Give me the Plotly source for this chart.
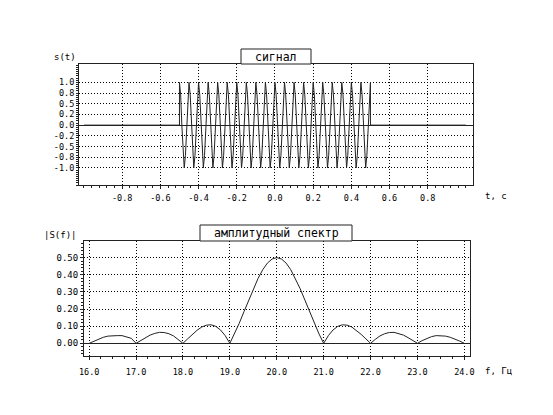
import plotly.graph_objects as go

# page body has an 8px margin, so the figure is drawn 8px in from the window corner
OFF = 8
W, H = 553 - OFF, 415 - OFF

# --- signal s(t): 20 Hz burst on [-0.5, 0.5] s, 8 samples per period
T_START, T_STEP = -0.5, 1 / 160
sig_vals = [
    1.0, 0.71, 0.0, -0.71, -1.0, -0.71, 0.0, 0.71,
    1.0, 0.71, 0.0, -0.71, -1.0, -0.71, 0.0, 0.71,
    1.0, 0.71, 0.0, -0.71, -1.0, -0.71, 0.0, 0.71,
    1.0, 0.71, 0.0, -0.71, -1.0, -0.71, 0.0, 0.71,
    1.0, 0.71, 0.0, -0.71, -1.0, -0.71, 0.0, 0.71,
    1.0, 0.71, 0.0, -0.71, -1.0, -0.71, 0.0, 0.71,
    1.0, 0.71, 0.0, -0.71, -1.0, -0.71, 0.0, 0.71,
    1.0, 0.71, 0.0, -0.71, -1.0, -0.71, 0.0, 0.71,
    1.0, 0.71, 0.0, -0.71, -1.0, -0.71, 0.0, 0.71,
    1.0, 0.71, 0.0, -0.71, -1.0, -0.71, 0.0, 0.71,
    1.0, 0.71, 0.0, -0.71, -1.0, -0.71, 0.0, 0.71,
    1.0, 0.71, 0.0, -0.71, -1.0, -0.71, 0.0, 0.71,
    1.0, 0.71, 0.0, -0.71, -1.0, -0.71, 0.0, 0.71,
    1.0, 0.71, 0.0, -0.71, -1.0, -0.71, 0.0, 0.71,
    1.0, 0.71, 0.0, -0.71, -1.0, -0.71, 0.0, 0.71,
    1.0, 0.71, 0.0, -0.71, -1.0, -0.71, 0.0, 0.71,
    1.0, 0.71, 0.0, -0.71, -1.0, -0.71, 0.0, 0.71,
    1.0, 0.71, 0.0, -0.71, -1.0, -0.71, 0.0, 0.71,
    1.0, 0.71, 0.0, -0.71, -1.0, -0.71, 0.0, 0.71,
    1.0, 0.71, 0.0, -0.71, -1.0, -0.71, 0.0, 0.71,
    1.0,
]
sig_t = [T_START + i * T_STEP for i in range(len(sig_vals))]
# zero outside the burst
sig_t = [-1.0, -0.5] + sig_t + [0.5, 1.0]
sig_vals = [0.0, 0.0] + sig_vals + [0.0, 0.0]

sig_tickvals = [-0.8, -0.6, -0.4, -0.2, 0.0, 0.2, 0.4, 0.6, 0.8]
sig_ytickvals = [1.0, 0.75, 0.5, 0.25, 0.0, -0.25, -0.5, -0.75, -1.0]
sig_yticktext = ["1.0", "0.8", "0.5", "0.2", "0.0", "-0.2", "-0.5", "-0.8", "-1.0"]

# --- amplitude spectrum |S(f)|, 16..24 Hz every 0.1 Hz
freq = [round(16.0 + i / 10, 1) for i in range(81)]
spec = [
    0.000, 0.013, 0.025, 0.035, 0.042, 0.045, 0.045, 0.045, 0.039, 0.029,
    0.000, 0.017, 0.033, 0.048, 0.058, 0.064, 0.063, 0.056, 0.043, 0.023,
    0.000, 0.026, 0.052, 0.076, 0.095, 0.106, 0.108, 0.099, 0.078, 0.045,
    0.000, 0.055, 0.117, 0.184, 0.252, 0.318, 0.378, 0.429, 0.468, 0.492,
    0.500,
    0.492, 0.468, 0.429, 0.378, 0.318, 0.252, 0.184, 0.117, 0.055, 0.000,
    0.045, 0.078, 0.099, 0.108, 0.106, 0.095, 0.076, 0.052, 0.026, 0.000,
    0.023, 0.043, 0.056, 0.063, 0.064, 0.058, 0.048, 0.033, 0.017, 0.000,
    0.016, 0.029, 0.039, 0.045, 0.045, 0.042, 0.035, 0.025, 0.013, 0.000,
]
spec_tickvals = [16, 17, 18, 19, 20, 21, 22, 23, 24]
spec_ticktext = ["16.0", "17.0", "18.0", "19.0", "20.0", "21.0", "22.0", "23.0", "24.0"]
spec_ytickvals = [0.0, 0.1, 0.2, 0.3, 0.4, 0.5]
spec_yticktext = ["0.00", "0.10", "0.20", "0.30", "0.40", "0.50"]

MONO = "DejaVu Sans Mono"
tick_font = dict(family=MONO, size=8.5, color="black")


def px_x(x):
    return (x - OFF) / W


def px_y(y):
    return 1 - (y - OFF) / H


fig = go.Figure()
fig.add_trace(go.Scatter(x=sig_t, y=sig_vals, mode="lines",
                         line=dict(color="#222", width=1),
                         xaxis="x", yaxis="y", hoverinfo="skip"))
fig.add_trace(go.Scatter(x=freq, y=spec, mode="lines",
                         line=dict(color="#222", width=1),
                         xaxis="x2", yaxis="y2", hoverinfo="skip"))

axis_common = dict(showline=True, linecolor="#222", linewidth=1, mirror=True,
                   showgrid=True, gridcolor="black", gridwidth=1, griddash="1px,2px",
                   ticks="outside", ticklen=3, tickcolor="#222", automargin=False,
                   tickfont=tick_font, zeroline=False, fixedrange=True)

fig.update_layout(
    template="none",
    width=W, height=H,
    margin=dict(l=0, r=0, t=0, b=0, pad=0, autoexpand=False),
    paper_bgcolor="white", plot_bgcolor="white",
    showlegend=False,
    xaxis=dict(axis_common, domain=[px_x(79), px_x(473)], range=[-1.026, 1.037],
               anchor="y", tickmode="array", tickvals=sig_tickvals,
               ticktext=[f"{v:.1f}" for v in sig_tickvals], ticklabelstandoff=2,
               minor=dict(dtick=0.04, tick0=0, ticks="outside", ticklen=2,
                          tickcolor="#222", showgrid=False)),
    yaxis=dict(axis_common, domain=[px_y(185), px_y(64)], range=[-1.40, 1.43],
               anchor="x", tickmode="array", tickvals=sig_ytickvals,
               ticktext=sig_yticktext, ticklen=2,
               zeroline=True, zerolinecolor="#222", zerolinewidth=1,
               minor=dict(dtick=0.05, tick0=0, ticks="outside", ticklen=2,
                          tickcolor="#222", showgrid=False)),
    xaxis2=dict(axis_common, domain=[px_x(84), px_x(470)], range=[15.89, 24.12],
                anchor="y2", tickmode="array", tickvals=spec_tickvals,
                ticktext=spec_ticktext, ticklabelstandoff=5,
                minor=dict(dtick=0.25, tick0=16, ticks="outside", ticklen=2,
                           tickcolor="#222", showgrid=False)),
    yaxis2=dict(axis_common, domain=[px_y(356), px_y(241)], range=[-0.074, 0.597],
                anchor="x2", tickmode="array", tickvals=spec_ytickvals,
                ticktext=spec_yticktext, ticklen=3,
                tickfont=dict(family=MONO, size=9, color="black"),
                zeroline=True, zerolinecolor="#222", zerolinewidth=1,
                minor=dict(dtick=0.02, tick0=0, ticks="outside", ticklen=2,
                           tickcolor="#222", showgrid=False)),
)

# title boxes sitting on the plot frames
for x0, x1, y0, y1 in [(241, 311, 49, 64), (200, 352, 225, 241)]:
    fig.add_shape(type="rect", xref="paper", yref="paper",
                  x0=px_x(x0), x1=px_x(x1), y0=px_y(y1), y1=px_y(y0),
                  line=dict(color="#222", width=1), fillcolor="white", layer="above")

labels = [
    ("сигнал", 276, 57, "center", 11.5),
    ("амплитудный спектр", 276, 233, "center", 11.5),
    ("s(t)", 52, 57, "left", 9),
    ("t, c", 483, 196, "left", 9),
    ("|S(f)|", 42, 235, "left", 9),
    ("f, Гц", 483, 371, "left", 9),
]
for text, x, y, anchor, size in labels:
    fig.add_annotation(text=text, xref="paper", yref="paper",
                       x=px_x(x), y=px_y(y), xanchor=anchor, yanchor="middle",
                       showarrow=False, font=dict(family=MONO, size=size, color="black"))

fig.write_html("out.html")
